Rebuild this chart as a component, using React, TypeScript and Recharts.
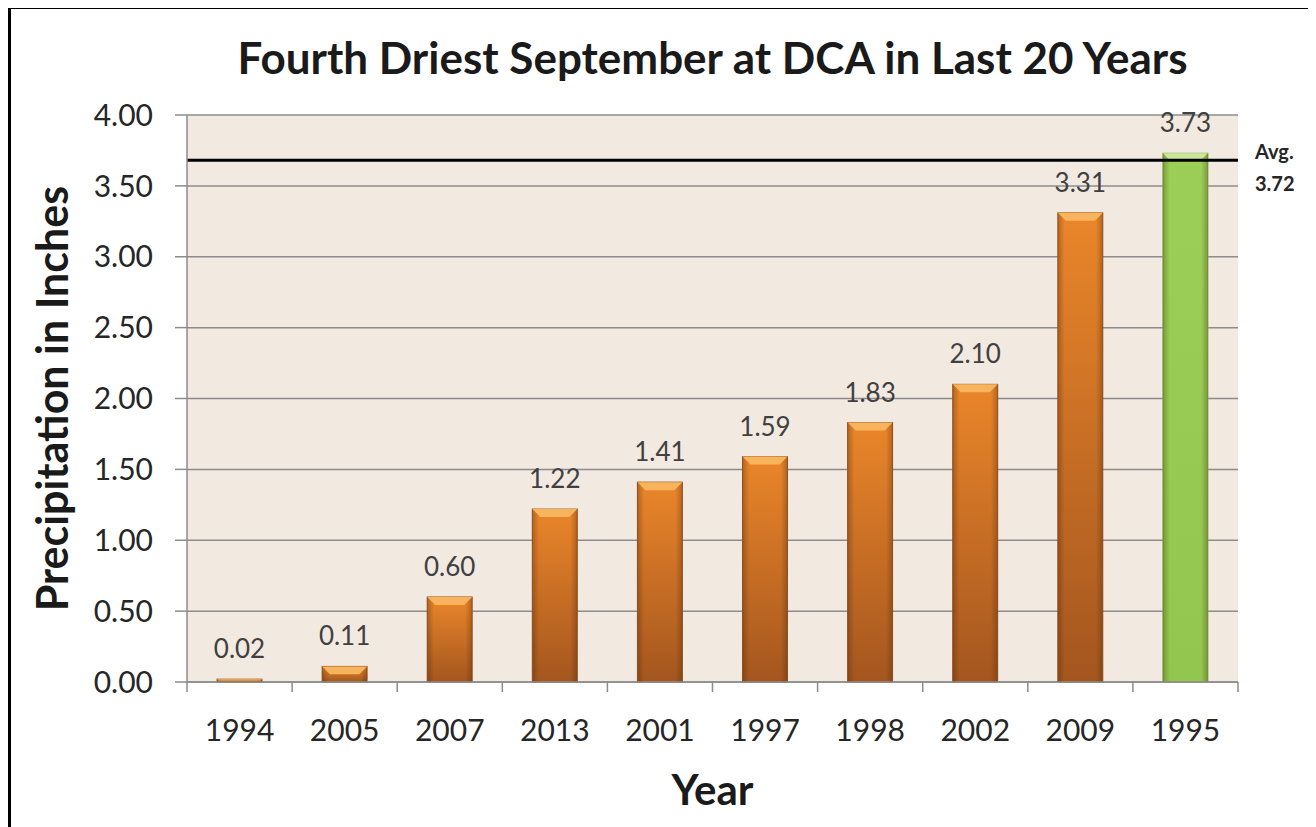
import React from "react";
import {
  BarChart,
  Bar,
  XAxis,
  YAxis,
  CartesianGrid,
  ReferenceLine,
  LabelList,
  Label,
} from "recharts";

const years = ["1994", "2005", "2007", "2013", "2001", "1997", "1998", "2002", "2009", "1995"];
const precip = [0.02, 0.11, 0.6, 1.22, 1.41, 1.59, 1.83, 2.1, 3.31, 3.73];
const highlightYear = "1995";
const yTicks = [0, 0.5, 1, 1.5, 2, 2.5, 3, 3.5, 4];
const avgText = "3.72";
const avgLine = 3.68;

const data = years.map((year, i) => ({ year, value: precip[i] }));

const FONT = "Lato, 'Open Sans', sans-serif";
const CHART_W = 1300;
const CHART_H = 815;
const MARGIN = { top: 106, right: 73, left: 116, bottom: 82 };
const PLOT_W = CHART_W - MARGIN.left - MARGIN.right - 60;

function BevelBar(props: any) {
  const { x, y, width, height, payload } = props;
  if (!height || height <= 0) return null;
  const green = payload.year === highlightYear;
  const b = Math.min(8, height / 2);
  return (
    <g>
      <rect
        x={x}
        y={y}
        width={width}
        height={height}
        fill={green ? "url(#greenBody)" : "url(#orangeBody)"}
        stroke={green ? "#7aa94a" : "#9a5a2a"}
        strokeWidth={1}
      />
      <rect x={x} y={y} width={width} height={height} fill="url(#edgeShade)" />
      <polygon
        points={`${x},${y} ${x + width},${y} ${x + width - b},${y + b} ${x + b},${y + b}`}
        fill={green ? "#cde79a" : "#f7b45c"}
      />
    </g>
  );
}

function YearTick(props: any) {
  const { x, y, payload, index } = props;
  const band = PLOT_W / years.length;
  const left = x - band / 2;
  return (
    <g>
      <line x1={left} y1={y} x2={left} y2={y + 10} stroke="#8c8c8c" strokeWidth={1.5} />
      {index === years.length - 1 && (
        <line x1={x + band / 2} y1={y} x2={x + band / 2} y2={y + 10} stroke="#8c8c8c" strokeWidth={1.5} />
      )}
      <text
        x={x}
        y={y + 47}
        textAnchor="middle"
        dominantBaseline="central"
        fontSize={30}
        fontFamily={FONT}
        fill="#262626"
      >
        {payload.value}
      </text>
    </g>
  );
}

export default function App() {
  return (
    <div
      style={{
        position: "relative",
        width: 1320,
        height: 830,
        marginTop: -2,
        border: "3px solid #000",
        boxSizing: "border-box",
        background: "#fff",
        fontFamily: FONT,
      }}
    >
      <div
        style={{
          position: "absolute",
          left: 0,
          top: 22,
          width: 1403,
          textAlign: "center",
          fontSize: 44,
          lineHeight: "53px",
          fontWeight: 700,
          color: "#1a1a1a",
        }}
      >
        Fourth Driest September at DCA in Last 20 Years
      </div>
      <BarChart width={CHART_W} height={CHART_H} data={data} margin={MARGIN}>
        <defs>
          <linearGradient id="orangeBody" x1="0" y1="0" x2="0" y2="1">
            <stop offset="0%" stopColor="#ea862a" />
            <stop offset="100%" stopColor="#a4561f" />
          </linearGradient>
          <linearGradient id="greenBody" x1="0" y1="0" x2="0" y2="1">
            <stop offset="0%" stopColor="#9ccf58" />
            <stop offset="100%" stopColor="#92c64e" />
          </linearGradient>
          <linearGradient id="edgeShade" x1="0" y1="0" x2="1" y2="0">
            <stop offset="0%" stopColor="#3a1a00" stopOpacity={0.3} />
            <stop offset="15%" stopColor="#3a1a00" stopOpacity={0} />
            <stop offset="85%" stopColor="#3a1a00" stopOpacity={0} />
            <stop offset="100%" stopColor="#3a1a00" stopOpacity={0.3} />
          </linearGradient>
        </defs>
        <CartesianGrid vertical={false} stroke="#8c8c8c" strokeWidth={1.5} fill="#f2e9e1" />
        <XAxis
          dataKey="year"
          height={60}
          stroke="#8c8c8c"
          strokeWidth={1.5}
          tickLine={false}
          tickSize={0}
          tickMargin={0}
          tick={<YearTick />}
          interval={0}
        >
          <Label
            content={(p: any) => {
              const vb = p.viewBox;
              return (
                <text
                  x={vb.x + vb.width / 2}
                  y={vb.y + 107}
                  textAnchor="middle"
                  dominantBaseline="central"
                  fontSize={42}
                  fontWeight={700}
                  fontFamily={FONT}
                  fill="#1a1a1a"
                >
                  Year
                </text>
              );
            }}
          />
        </XAxis>
        <YAxis
          width={60}
          domain={[0, 4]}
          ticks={yTicks}
          interval={0}
          stroke="#8c8c8c"
          strokeWidth={1.5}
          tickSize={12}
          tickMargin={22}
          tickFormatter={(v: number) => v.toFixed(2)}
          tick={{ fontSize: 30, fill: "#262626", fontFamily: FONT }}
        >
          <Label
            content={(p: any) => {
              const vb = p.viewBox;
              const cx = 40;
              const cy = vb.y + vb.height / 2;
              return (
                <text
                  x={cx}
                  y={cy}
                  transform={`rotate(-90 ${cx} ${cy})`}
                  textAnchor="middle"
                  dominantBaseline="central"
                  fontSize={43}
                  fontWeight={700}
                  fontFamily={FONT}
                  fill="#1a1a1a"
                >
                  Precipitation in Inches
                </text>
              );
            }}
          />
        </YAxis>
        <Bar dataKey="value" barSize={45} shape={<BevelBar />} isAnimationActive={false}>
          <LabelList
            dataKey="value"
            position="top"
            offset={21}
            formatter={(v: any) => Number(v).toFixed(2)}
            style={{ fontSize: 26, fill: "#404040", fontFamily: FONT }}
          />
        </Bar>
        <ReferenceLine
          y={avgLine}
          stroke="#000"
          strokeWidth={3}
          label={(p: any) => {
            const vb = p.viewBox;
            const lx = vb.x + vb.width + 17;
            return (
              <g fontFamily={FONT} fontWeight={700} fontSize={20} fill="#262626">
                <text x={lx} y={vb.y - 9} dominantBaseline="central">
                  Avg.
                </text>
                <text x={lx} y={vb.y + 23} dominantBaseline="central">
                  {avgText}
                </text>
              </g>
            );
          }}
        />
      </BarChart>
    </div>
  );
}
